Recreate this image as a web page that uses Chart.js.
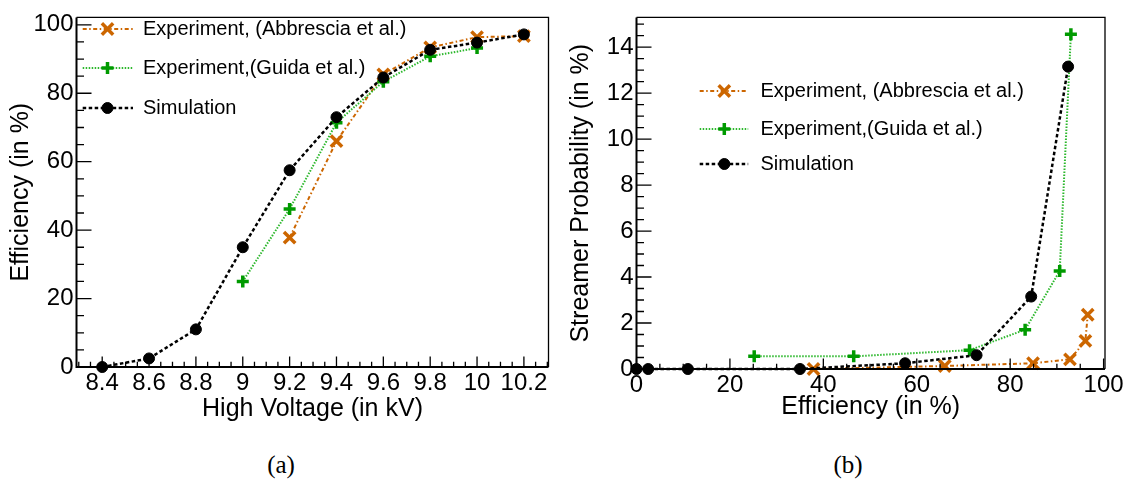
<!DOCTYPE html>
<html>
<head>
<meta charset="utf-8">
<script src="https://cdn.jsdelivr.net/npm/chart.js@4/dist/chart.umd.min.js"></script>
<style>
html,body{margin:0;padding:0;background:#fff;width:1132px;height:483px;overflow:hidden;position:relative}
#ca{position:absolute;left:0;top:0}
#cb{position:absolute;left:560px;top:0}
.cap{position:absolute;font-family:"Liberation Serif","Times New Roman",serif;font-size:25px;color:#000;transform:translate(-50%,-50%);white-space:nowrap}
</style>
</head>
<body>
<canvas id="ca" width="560" height="440"></canvas>
<canvas id="cb" width="572" height="440"></canvas>
<div class="cap" style="left:281px;top:465px">(a)</div>
<div class="cap" style="left:848px;top:465px">(b)</div>
<script>
// ---------- data: panel (a) efficiency vs high voltage ----------
const simVoltage = [8.4, 8.6, 8.8, 9.0, 9.2, 9.4, 9.6, 9.8, 10.0, 10.2];
const simEfficiency = [0, 2.5, 11, 35, 57.5, 73, 84.6, 92.7, 94.8, 97.2];
const guidaVoltage = [9.0, 9.2, 9.4, 9.6, 9.8, 10.0];
const guidaEfficiency = [25, 46.2, 71.4, 83.4, 90.8, 93.2];
const abbVoltage = [9.2, 9.4, 9.6, 9.8, 10.0, 10.2];
const abbEfficiency = [37.8, 66, 85.5, 93.4, 96.4, 96.7];

// ---------- data: panel (b) streamer probability vs efficiency ----------
const simEffB = [0, 2.5, 11, 35, 57.5, 72.8, 84.5, 92.4];
const simStreamer = [0, 0, 0, 0, 0.25, 0.6, 3.15, 13.15];
const guidaEffB = [25.2, 46.5, 71.3, 83.2, 90.6, 93.0];
const guidaStreamer = [0.55, 0.55, 0.82, 1.71, 4.26, 14.56];
const abbEffB = [37.9, 66, 84.9, 92.8, 96.1, 96.6];
const abbStreamer = [0.0, 0.13, 0.25, 0.42, 1.22, 2.36];

// ---------- tick values / labels ----------
const hvTickValues = [8.4, 8.6, 8.8, 9.0, 9.2, 9.4, 9.6, 9.8, 10.0, 10.2];
const hvTickLabels = ['8.4', '8.6', '8.8', '9', '9.2', '9.4', '9.6', '9.8', '10', '10.2'];
const effTickValues = [0, 20, 40, 60, 80, 100];
const effTickLabels = ['0', '20', '40', '60', '80', '100'];
const streamerTickValues = [0, 2, 4, 6, 8, 10, 12, 14];
const streamerTickLabels = ['0', '2', '4', '6', '8', '10', '12', '14'];

const labelAbb = 'Experiment, (Abbrescia et al.)';
const labelGuida = 'Experiment,(Guida et al.)';
const labelSim = 'Simulation';

const SANS = '"Liberation Sans", Arial, Helvetica, sans-serif';
const ORANGE = '#cc6600';
const GREEN_LINE = '#2db82d';
const GREEN_MARK = '#009a00';

function pts(xs, ys) { return xs.map((x, i) => ({x: x, y: ys[i]})); }

function simDs(data) {
  return {label: labelSim, data: data, showLine: true, clip: false, tension: 0,
    borderColor: '#000', borderWidth: 2.5, borderDash: [3.5, 2.5],
    pointStyle: 'circle', pointRadius: 5.5, pointBackgroundColor: '#000',
    pointBorderColor: '#000', pointBorderWidth: 1};
}
function guidaDs(data) {
  return {label: labelGuida, data: data, showLine: true, clip: false, tension: 0,
    borderColor: GREEN_LINE, borderWidth: 2, borderDash: [1.5, 1.5],
    pointStyle: 'cross', pointRadius: 6, pointBackgroundColor: GREEN_MARK,
    pointBorderColor: GREEN_MARK, pointBorderWidth: 3.5};
}
function abbDs(data) {
  return {label: labelAbb, data: data, showLine: true, clip: false, tension: 0,
    borderColor: ORANGE, borderWidth: 2, borderDash: [4, 2.5, 1.5, 2.5],
    pointStyle: 'crossRot', pointRadius: 8, pointBackgroundColor: ORANGE,
    pointBorderColor: ORANGE, pointBorderWidth: 3.5};
}

// ROOT-like frame, inward ticks and in-frame legend
const rootStyle = {
  id: 'rootStyle',
  afterDatasetsDraw(chart, args, o) {
    const ctx = chart.ctx;
    const {left, right, top, bottom} = chart.chartArea;
    const xs = chart.scales.x, ys = chart.scales.y;
    ctx.save();
    ctx.setLineDash([]);
    ctx.lineCap = 'butt';
    ctx.strokeStyle = '#000';
    ctx.lineWidth = 1.3;
    ctx.beginPath(); ctx.moveTo(left, top); ctx.lineTo(right, top); ctx.lineTo(right, bottom); ctx.stroke();
    ctx.lineWidth = 2;
    ctx.beginPath(); ctx.moveTo(left, top); ctx.lineTo(left, bottom); ctx.lineTo(right, bottom); ctx.stroke();

    ctx.lineWidth = 1.3;
    function ticks(scale, step, major, horiz, majL, minL) {
      const s = Math.ceil(scale.min / step - 1e-6), e = Math.floor(scale.max / step + 1e-6);
      ctx.beginPath();
      for (let k = s; k <= e; k++) {
        const v = k * step;
        const r = v / major;
        const isMaj = Math.abs(r - Math.round(r)) < 1e-6;
        const len = isMaj ? majL : minL;
        const p = scale.getPixelForValue(v);
        if (horiz) { ctx.moveTo(p, bottom); ctx.lineTo(p, bottom - len); }
        else { ctx.moveTo(left, p); ctx.lineTo(left + len, p); }
      }
      ctx.stroke();
    }
    ticks(xs, o.minorX, o.majorX, true, 10.5, 5.3);
    ticks(ys, o.minorY, o.majorY, false, 15, 7.5);

    // legend
    const L = o.legend;
    L.items.forEach((di, row) => {
      const ds = chart.data.datasets[di];
      const y = L.ys[row];
      ctx.save();
      ctx.strokeStyle = ds.borderColor;
      ctx.lineWidth = ds.borderWidth;
      ctx.setLineDash(ds.borderDash || []);
      ctx.beginPath(); ctx.moveTo(L.x0, y); ctx.lineTo(L.x1, y); ctx.stroke();
      ctx.setLineDash([]);
      ctx.fillStyle = ds.pointBackgroundColor;
      ctx.strokeStyle = ds.pointBorderColor;
      ctx.lineWidth = ds.pointBorderWidth;
      Chart.helpers.drawPoint(ctx, {pointStyle: ds.pointStyle, rotation: 0,
        radius: ds.pointRadius, borderWidth: ds.pointBorderWidth}, L.xm, y);
      ctx.fillStyle = '#000';
      ctx.font = L.fontSize + 'px ' + SANS;
      ctx.textBaseline = 'middle';
      ctx.textAlign = 'left';
      ctx.fillText(ds.label, L.xt, y);
      ctx.restore();
    });
    ctx.restore();
  }
};

function axisBase(tickValues, tickLabels, size, pad) {
  return {
    type: 'linear',
    afterBuildTicks: s => { s.ticks = tickValues.map(v => ({value: v})); },
    ticks: {callback: (v, i) => tickLabels[i], font: {family: SANS, size: size}, color: '#000',
      padding: pad, maxRotation: 0, minRotation: 0, autoSkip: false},
    grid: {display: false, drawTicks: false},
    border: {display: false}
  };
}

// ---------- chart (a) ----------
const xA = Object.assign(axisBase(hvTickValues, hvTickLabels, 24, 2), {
  position: 'bottom', min: 8.2903, max: 10.305,
  afterFit: s => { s.height = 73; },
  title: {display: true, text: 'High Voltage (in kV)', color: '#000',
    font: {family: SANS, size: 25}, padding: {top: 0, bottom: 16}}
});
const yA = Object.assign(axisBase(effTickValues, effTickLabels, 24, 3), {
  position: 'left', min: 0, max: 102.17,
  afterFit: s => { s.width = 76.5; },
  title: {display: true, text: 'Efficiency (in %)', color: '#000',
    font: {family: SANS, size: 25}, padding: {top: 6, bottom: 0}}
});

new Chart(document.getElementById('ca'), {
  type: 'scatter',
  data: {datasets: [
    simDs(pts(simVoltage, simEfficiency)),
    guidaDs(pts(guidaVoltage, guidaEfficiency)),
    abbDs(pts(abbVoltage, abbEfficiency))
  ]},
  options: {
    responsive: false, animation: false, devicePixelRatio: 1,
    layout: {padding: {left: 0, top: 4, right: 6, bottom: 0}},
    plugins: {legend: {display: false}, tooltip: {enabled: false},
      rootStyle: {minorX: 0.05, majorX: 0.2, minorY: 5, majorY: 20,
        legend: {items: [2, 1, 0], ys: [29, 68, 108], x0: 82.7, x1: 133, xm: 107.5, xt: 143, fontSize: 20}}},
    scales: {x: xA, y: yA}
  },
  plugins: [rootStyle]
});

// ---------- chart (b) ----------
const xB = Object.assign(axisBase(effTickValues, effTickLabels, 24, 2), {
  position: 'bottom', min: 0, max: 100.3,
  afterFit: s => { s.height = 71; },
  title: {display: true, text: 'Efficiency (in %)', color: '#000',
    font: {family: SANS, size: 25}, padding: {top: 0, bottom: 18}}
});
const yB = Object.assign(axisBase(streamerTickValues, streamerTickLabels, 24, 3), {
  position: 'left', min: 0, max: 15.29,
  afterFit: s => { s.width = 76.5; },
  title: {display: true, text: 'Streamer Probability (in %)', color: '#000',
    font: {family: SANS, size: 25}, padding: {top: 6, bottom: 0}}
});

new Chart(document.getElementById('cb'), {
  type: 'scatter',
  data: {datasets: [
    simDs(pts(simEffB, simStreamer)),
    guidaDs(pts(guidaEffB, guidaStreamer)),
    abbDs(pts(abbEffB, abbStreamer))
  ]},
  options: {
    responsive: false, animation: false, devicePixelRatio: 1,
    layout: {padding: {left: 0, top: 14, right: 27, bottom: 0}},
    plugins: {legend: {display: false}, tooltip: {enabled: false},
      rootStyle: {minorX: 5, majorX: 20, minorY: 0.5, majorY: 2,
        legend: {items: [2, 1, 0], ys: [91, 129, 164], x0: 139.7, x1: 188.2, xm: 164.3, xt: 200.4, fontSize: 20}}},
    scales: {x: xB, y: yB}
  },
  plugins: [rootStyle]
});
</script>
</body>
</html>
